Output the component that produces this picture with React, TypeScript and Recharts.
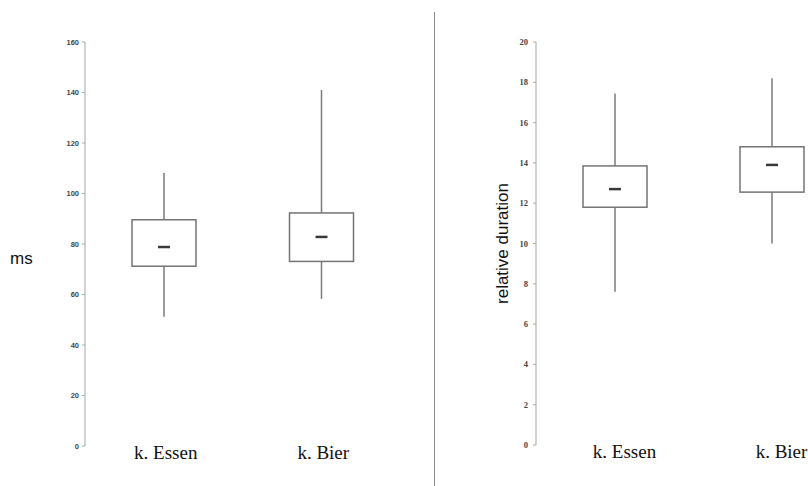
import React from 'react';
import { ComposedChart, Bar, XAxis, YAxis, Label } from 'recharts';

const categories = ['k. Essen', 'k. Bier'];

const msMin = [51.2, 58.3];
const msQ1 = [71.2, 73.1];
const msMedian = [78.8, 82.8];
const msQ3 = [89.6, 92.3];
const msMax = [108.1, 141.0];
const msTicks = [0, 20, 40, 60, 80, 100, 120, 140, 160];

const relMin = [7.6, 10.0];
const relQ1 = [11.8, 12.55];
const relMedian = [12.7, 13.9];
const relQ3 = [13.85, 14.8];
const relMax = [17.45, 18.2];
const relTicks = [0, 2, 4, 6, 8, 10, 12, 14, 16, 18, 20];

const build = (mn: number[], q1: number[], md: number[], q3: number[], mx: number[]) =>
  categories.map((name, i) => ({ name, min: mn[i], q1: q1[i], median: md[i], q3: q3[i], max: mx[i] }));

const msData = build(msMin, msQ1, msMedian, msQ3, msMax);
const relData = build(relMin, relQ1, relMedian, relQ3, relMax);

const SANS = 'Liberation Sans, Arial, sans-serif';
const SERIF = 'Liberation Serif, Times New Roman, serif';

const BoxShape = (props: any) => {
  const { x, y, width, height, payload } = props;
  if (!payload) return null;
  const top = Math.min(y, y + height);
  const h = Math.abs(height);
  const span = payload.max - payload.min;
  const py = (v: number) => top + ((payload.max - v) / span) * h;
  const cx = x + width / 2;
  return (
    <g>
      <line x1={cx} x2={cx} y1={py(payload.max)} y2={py(payload.min)} stroke="#7a7a7a" strokeWidth={1.5} />
      <rect
        x={x}
        y={py(payload.q3)}
        width={width}
        height={py(payload.q1) - py(payload.q3)}
        fill="#fff"
        stroke="#747474"
        strokeWidth={1.5}
      />
      <line x1={cx - 6} x2={cx + 6} y1={py(payload.median)} y2={py(payload.median)} stroke="#3a3a3a" strokeWidth={2.5} />
    </g>
  );
};

const makeXTick = (dx: number) => (props: any) => {
  const { x, y, payload } = props;
  return (
    <text x={x + dx} y={y} dy={13} textAnchor="middle" fontFamily={SERIF} fontSize={19} fill="#111">
      {payload.value}
    </text>
  );
};

export default function App() {
  return (
    <div style={{ position: 'fixed', left: 0, top: 0, width: 808, height: 486, overflow: 'hidden', background: '#fff' }}>
      <div style={{ position: 'absolute', left: 0, top: 0 }}>
        <ComposedChart width={420} height={486} data={msData} margin={{ top: 42, right: 20, bottom: 0, left: 0 }}>
          <XAxis
            dataKey="name"
            axisLine={false}
            tickLine={false}
            tickSize={0}
            tickMargin={0}
            height={40}
            tick={makeXTick(2)}
            interval={0}
          />
          <YAxis
            domain={[0, 160]}
            ticks={msTicks}
            width={85}
            axisLine={{ stroke: '#d2d2d2', strokeWidth: 2 }}
            tickLine={{ stroke: '#aaa' }}
            tickSize={3}
            tickMargin={3}
            tick={{ fontSize: 7.5, fill: '#444', fontFamily: SANS, fontWeight: 'bold' }}
            allowDataOverflow
          >
            <Label
              content={(p: any) => {
                const vb = p.viewBox || {};
                return (
                  <text x={10} y={(vb.y || 0) + (vb.height || 0) / 2} dy={20} fontFamily={SANS} fontSize={17} fill="#111">
                    ms
                  </text>
                );
              }}
            />
          </YAxis>
          <Bar dataKey={(d: any) => [d.min, d.max]} barSize={64} shape={BoxShape} isAnimationActive={false} />
        </ComposedChart>
      </div>
      <div style={{ position: 'absolute', left: 434, top: 12, width: 1, height: 480, background: '#8a8a8a' }} />
      <div style={{ position: 'absolute', left: 440, top: 0 }}>
        <ComposedChart width={410} height={486} data={relData} margin={{ top: 42, right: 0, bottom: 0, left: 0 }}>
          <XAxis
            dataKey="name"
            axisLine={false}
            tickLine={false}
            tickSize={0}
            tickMargin={0}
            height={41}
            tick={makeXTick(10)}
            interval={0}
          />
          <YAxis
            domain={[0, 20]}
            ticks={relTicks}
            width={96}
            axisLine={{ stroke: '#d2d2d2', strokeWidth: 2 }}
            tickLine={{ stroke: '#aaa' }}
            tickSize={3}
            tickMargin={5}
            tick={{ fontSize: 8.5, fill: '#444', fontFamily: SERIF, fontWeight: 'bold' }}
            allowDataOverflow
          >
            <Label
              content={(p: any) => {
                const vb = p.viewBox || {};
                const cx = 502;
                const cy = (vb.y || 0) + (vb.height || 0) / 2;
                return (
                  <text
                    x={cx - 440}
                    y={cy}
                    transform={`rotate(-90 ${cx - 440} ${cy})`}
                    textAnchor="middle"
                    dy={6}
                    fontFamily={SANS}
                    fontSize={17}
                    fill="#111"
                  >
                    relative duration
                  </text>
                );
              }}
            />
          </YAxis>
          <Bar dataKey={(d: any) => [d.min, d.max]} barSize={64} shape={BoxShape} isAnimationActive={false} />
        </ComposedChart>
      </div>
    </div>
  );
}
